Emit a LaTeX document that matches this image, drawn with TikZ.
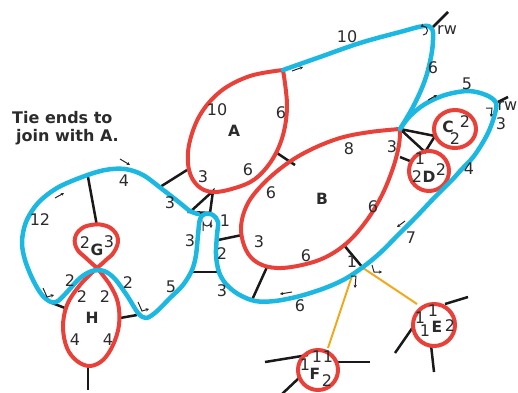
\documentclass[tikz,border=0pt]{standalone}
\usepackage{fontspec}
\setmainfont{DejaVu Sans}
\usetikzlibrary{arrows.meta}
\definecolor{rp}{HTML}{E8413A}
\definecolor{bp}{HTML}{1DB8E2}
\definecolor{yp}{HTML}{EEAA1C}
\definecolor{tx}{HTML}{2B2B2B}
\begin{document}
\begin{tikzpicture}[x=1pt,y=-1pt,
  blueln/.style={draw=bp,line width=4.5pt,line cap=round,line join=round},
  redln/.style={draw=rp,line width=4pt,line join=round},
  blk/.style={draw=black!90,line width=2.5pt},
  yel/.style={draw=yp,line width=2pt},
  lab/.style={font=\fontsize{16}{16}\selectfont,text=tx,inner sep=0pt},
  blab/.style={font=\bfseries\fontsize{15.5}{16}\selectfont,text=tx,inner sep=0pt},
  ttl/.style={font=\bfseries\fontsize{16}{17}\selectfont,text=tx,inner sep=0pt},
  tarr/.style={draw=black!85,line width=1pt,-{Stealth[length=3.2pt,width=3.4pt]}}]
\useasboundingbox (0,0) rectangle (518,392);

% ---------- black connectors ----------
\coordinate (rw1) at (432,28);  \coordinate (rw1e) at (448,12);
\coordinate (rw2) at (496,103); \coordinate (rw2e) at (508,97);
\draw[blk] (rw1) -- (rw1e);
\draw[blk] (rw2) -- (rw2e);
\coordinate (Ab) at (187,170); \coordinate (bl1) at (160,187);
\draw[blk] (Ab) -- (bl1);
\coordinate (Ar) at (277,153); \coordinate (Bt) at (295,165);
\draw[blk] (Ar) -- (Bt);
\coordinate (t1a) at (213,191); \coordinate (t1b) at (190,212); \coordinate (t1c) at (210,213);
\draw[blk,line join=miter] (t1a) -- (t1b) -- (t1c) -- cycle;
\coordinate (lb1) at (191,272); \coordinate (lb2) at (217,272);
\draw[blk] (lb1) -- (lb2);
\coordinate (Bl) at (242,235); \coordinate (rl) at (218,240);
\draw[blk] (Bl) -- (rl);
\coordinate (Bb) at (267,267); \coordinate (bb) at (252,300);
\draw[blk] (Bb) -- (bb);
\coordinate (Bbr) at (343,244); \coordinate (J) at (363,268);
\draw[blk] (Bbr) -- (J);
\coordinate (Brt) at (400,157); \coordinate (Dl) at (410,161);
\draw[blk] (Brt) -- (Dl);
\coordinate (Btip) at (400,129); \coordinate (Cl) at (435,136); \coordinate (Dt) at (425,152);
\draw[blk,line join=miter] (Btip) -- (Cl) -- (Dt) -- cycle;
\coordinate (Gt) at (97,226); \coordinate (bt) at (88,177);
\draw[blk] (bt) -- (Gt);
\coordinate (Hl) at (65,308); \coordinate (bh1) at (52,303);
\draw[blk] (bh1) -- (Hl);
\coordinate (Hr) at (120,318); \coordinate (bh2) at (137,315);
\draw[blk] (Hr) -- (bh2);
\coordinate (Hb) at (88,364); \coordinate (Hbe) at (88,390);
\draw[blk] (Hb) -- (Hbe);
% E and F stubs
\draw[blk] (445,304) -- (468,297);
\draw[blk] (413,327) -- (395,353);
\draw[blk] (431,345) -- (434,372);
\draw[blk] (265,362) -- (308,355);
\draw[blk] (338,362) -- (370,362);
\draw[blk] (300,377) -- (282,394);

% ---------- yellow ----------
\coordinate (Et) at (417,304); \coordinate (J2) at (353,273); \coordinate (Ft) at (328,348);
\draw[yel] (J) -- (Et);
\draw[yel] (J2) -- (Ft);

% ---------- red shapes ----------
\draw[redln] plot[smooth,tension=0.6] coordinates {(283,70) (250,76) (221,91) (200,115) (189,145) (189,170) (198,186) (213,192) (235,188) (255,179) (272,160) (283,135) (287,105) (283,70)};
\draw[redln] plot[smooth,tension=0.6] coordinates {(400,129) (370,132) (340,138) (310,150) (285,165) (262,185) (247,205) (241,228) (246,250) (258,263) (277,268) (302,265) (326,257) (348,242) (367,220) (382,195) (393,168) (399,145) (400,129)};
\draw[redln] plot[smooth,tension=0.7] coordinates {(97,268) (86,258) (77,249) (75,238) (81,229) (91,225) (103,225) (113,230) (118,240) (114,252) (106,260) (97,268)};
\draw[redln] plot[smooth,tension=0.6] coordinates {(97,268) (80,285) (67,305) (63,327) (67,348) (77,361) (90,366) (103,360) (113,345) (119,325) (118,303) (110,285) (97,268)};
\draw[redln] (455,129) ellipse [x radius=21,y radius=19];
\draw[redln] (429,171) circle [radius=20];
\draw[redln] (434,325) circle [radius=21];
\draw[redln] (318,370) circle [radius=20];

% ---------- blue rope ----------
\draw[blueln] plot[smooth,tension=0.6] coordinates {(283,70) (320,57) (360,43) (400,32) (424,26) (432,29) (433,40) (431,57) (425,80) (414,105) (400,129)};
\draw[blueln] plot[smooth,tension=0.55] coordinates {(400,129) (410,116) (425,104) (445,95) (468,91) (486,95) (496,103) (494,117) (487,135) (474,156) (461,170) (452,180) (434,198) (416,217) (398,235) (380,253) (363,267) (345,279) (325,288) (300,296) (275,301) (255,301) (238,294) (226,284) (219,272) (216,255) (217,235) (218,222) (213,215) (205,214) (200,219) (198,235) (196,255) (192,270) (183,285) (170,298) (156,312) (146,318) (138,313) (128,297) (115,279) (104,271) (92,271) (80,278) (68,291) (58,301) (51,302) (42,295) (33,280) (25,260) (22,242) (26,222) (38,203) (57,188) (82,177) (105,170) (125,169) (143,175) (162,189) (180,203) (190,211) (198,214)};

% ---------- small arrows ----------
\draw[tarr] (292,71) -- (303,67);
\draw[tarr] (423,35) arc[start angle=90,end angle=-120,radius=4.5];
\draw[tarr] (428,100) -- (437,95);
\draw[tarr] (486,108) -- (492,108) -- (491,117);
\draw[tarr] (120,159) -- (130,165);
\draw[tarr] (55,198) -- (64,193);
\draw[tarr] (405,221) -- (397,227);
\draw[tarr] (292,292) -- (280,294);
\draw[tarr] (351,276) -- (356,276) -- (355,288);
\draw[tarr] (372,265) -- (374,272) -- (382,272);
\draw[tarr] (43,288) -- (47,297) -- (54,295);
\draw[tarr] (138,302) -- (142,311) -- (149,309);
\draw[tarr] (203,231) -- (203,222) arc[start angle=180,end angle=0,radius=4] -- (211,228);

% ---------- labels ----------
\node[ttl,anchor=west] (t1) at (12,118) {Tie ends to};
\node[ttl,anchor=west] (t2) at (16,137) {join with A.};
\node[lab] (l10) at (347,37) {10};
\node[lab] (l6a) at (433,68) {6};
\node[lab,anchor=west] (rwa) at (437,30) {rw};
\node[lab,anchor=east] (rwb) at (517.5,106) {rw};
\node[lab] (l5a) at (467,84) {5};
\node[lab] (l3a) at (501,124) {3};
\node[lab] (l4a) at (469,169) {4};
\node[lab] (l7) at (411,238) {7};
\node[lab] (l1j) at (352,262) {1};
\node[lab] (l6b) at (300,306) {6};
% A
\node[blab] (A) at (234,131) {A};
\node[lab] (a10) at (217,110) {10};
\node[lab] (a6) at (281,113) {6};
\node[lab] (a3) at (203,177) {3};
\node[lab] (a6b) at (248,170) {6};
% B
\node[blab] (B) at (322,199) {B};
\node[lab] (b8) at (349,149) {8};
\node[lab] (b3) at (392,147) {3};
\node[lab] (b6a) at (271,193) {6};
\node[lab] (b6b) at (373,207) {6};
\node[lab] (b3b) at (259,242) {3};
\node[lab] (b6c) at (306,256) {6};
% loop
\node[lab] (k3) at (170,203) {3};
\node[lab] (k1) at (225,221) {1};
\node[lab] (k3b) at (190,241) {3};
\node[lab] (k2) at (222,254) {2};
\node[lab] (k3c) at (222,291) {3};
\node[lab] (k5) at (171,287) {5};
\node[lab] (k4) at (124,181) {4};
\node[lab] (k12) at (40,220) {12};
% G, H
\node[lab] (g2) at (85,243) {2};
\node[blab] (G) at (97,250) {G};
\node[lab] (g3) at (109,242) {3};
\node[lab] (h2a) at (70,281) {2};
\node[lab] (h2b) at (82,297) {2};
\node[lab] (h2c) at (105,297) {2};
\node[lab] (h2d) at (128,283) {2};
\node[blab] (H) at (92,318) {H};
\node[lab] (h4a) at (75,340) {4};
\node[lab] (h4b) at (108,340) {4};
% C, D
\node[blab] (C) at (448,127) {C};
\node[lab] (c2a) at (465,122) {2};
\node[lab] (c2b) at (455,139) {2};
\node[lab] (d1) at (420,159) {1};
\node[lab] (d2a) at (417,177) {2};
\node[blab] (D) at (429,177) {D};
\node[lab] (d2b) at (441,170) {2};
% E
\node[lab] (e1a) at (420,318) {1};
\node[lab] (e1b) at (433,311) {1};
\node[lab] (e1c) at (425,331) {1};
\node[blab] (E) at (437,327) {E};
\node[lab] (e2) at (450,326) {2};
% F
\node[lab] (f1a) at (305,365) {1};
\node[lab] (f1b) at (317,357) {1};
\node[lab] (f1c) at (328,357) {1};
\node[blab] (F) at (315,374) {F};
\node[lab] (f2) at (327,381) {2};
\end{tikzpicture}
\end{document}
